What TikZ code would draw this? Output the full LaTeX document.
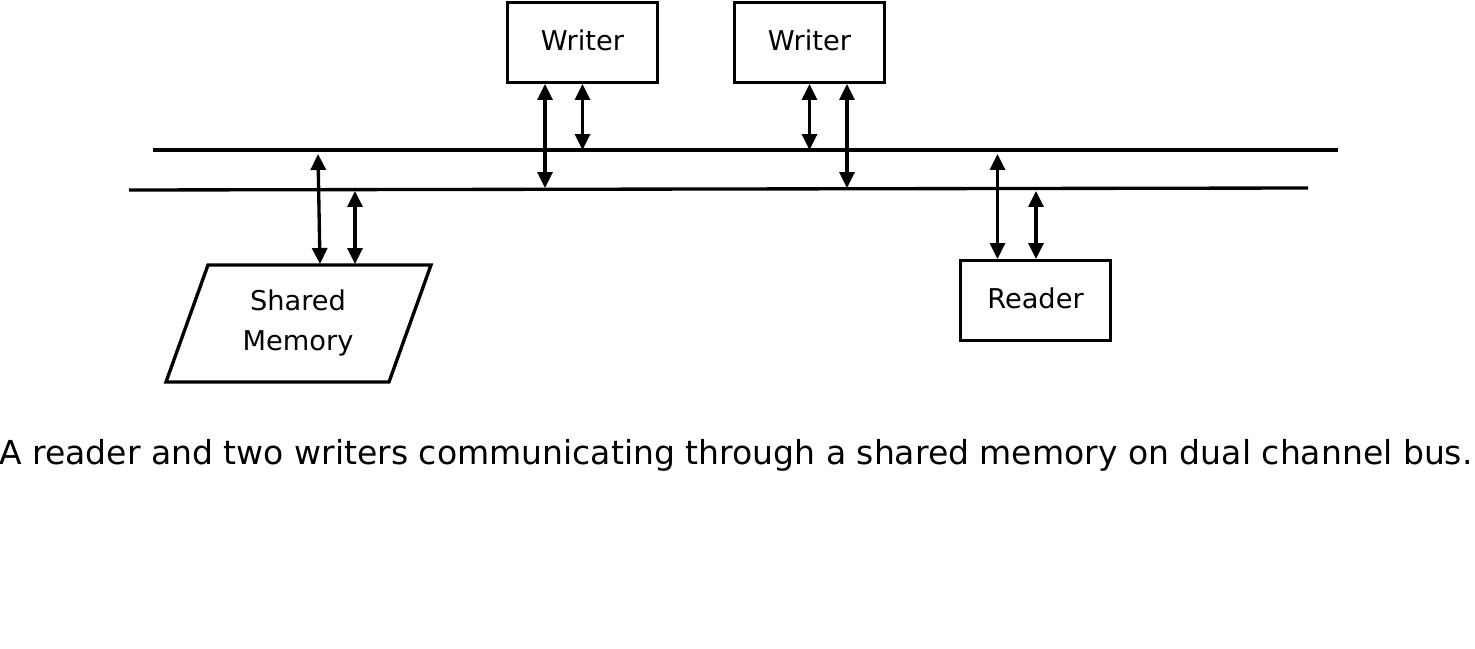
\documentclass[tikz,border=0pt]{standalone}
\usepackage{fontspec}
\setmainfont{DejaVu Sans}
\usetikzlibrary{arrows.meta}
\begin{document}
\begin{tikzpicture}[x=0.02cm,y=-0.02cm,
  thick line/.style={line width=1.9pt},
  unit/.style={draw,thick line,minimum width=2.99cm,minimum height=1.59cm,inner sep=0pt},
  label/.style={font=\fontsize{15.5}{22.5}\selectfont,align=center},
  link/.style={{Triangle[length=0.32cm,width=0.3cm]}-{Triangle[length=0.32cm,width=0.3cm]},thick line}]
\useasboundingbox (0,0) rectangle (1475,649);

% units attached to the bus
\node[unit] (w1) at (582.5,42.5) {};
\node[unit] (w2) at (809.5,42.5) {};
\node[unit] (rd) at (1035.5,300.5) {};
\node[label] (w1t) at (582.5,40) {Writer};
\node[label] (w2t) at (809.5,40) {Writer};
\node[label] (rdt) at (1035.5,298) {Reader};

% shared memory block
\draw[thick line] (208,265) -- (431,265) -- (389,382) -- (166,382) -- cycle;
\node[label] (sm) at (298,323) {Shared\\Memory};

% dual channel bus
\coordinate (busAL) at (153,150);
\coordinate (busAR) at (1338,150);
\coordinate (busBL) at (129,190);
\coordinate (busBR) at (1308,188);
\draw[thick line] (busAL) -- (busAR);
\draw[thick line] (busBL) -- (busBR);

% attachment points
\coordinate (w1a) at (545,84);   \coordinate (w1b) at (582.5,84);
\coordinate (w2a) at (809.5,84); \coordinate (w2b) at (847,84);
\coordinate (w1aB) at (545,188); \coordinate (w1bA) at (582.5,150);
\coordinate (w2aA) at (809.5,150); \coordinate (w2bB) at (847,188);
\coordinate (smA) at (318,154);  \coordinate (smAt) at (320,264);
\coordinate (smB) at (355,191);  \coordinate (smBt) at (355,264);
\coordinate (rdA) at (997.5,154); \coordinate (rdAt) at (997.5,259);
\coordinate (rdB) at (1036,191);  \coordinate (rdBt) at (1036,259);

\draw[link] (w1a) -- (w1aB);
\draw[link] (w1b) -- (w1bA);
\draw[link] (w2a) -- (w2aA);
\draw[link] (w2b) -- (w2bB);
\draw[link] (smA) -- (smAt);
\draw[link] (smB) -- (smBt);
\draw[link] (rdA) -- (rdAt);
\draw[link] (rdB) -- (rdBt);

% caption
\node[font=\fontsize{18.8}{22}\selectfont] (cap) at (736,455)
  {A reader and two writers communicating through a shared memory on dual channel bus.};
\end{tikzpicture}
\end{document}
